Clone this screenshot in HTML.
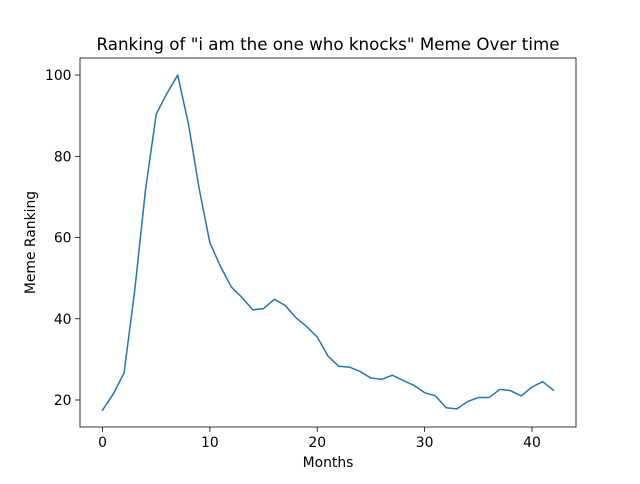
<!DOCTYPE html>
<html><head><meta charset="utf-8"><style>
body{margin:0;background:#fff;font-family:"DejaVu Sans","Liberation Sans",sans-serif;}
</style></head><body>
<svg id="chart" width="640" height="480" xmlns="http://www.w3.org/2000/svg"></svg>
<script>
const months = [0,1,2,3,4,5,6,7,8,9,10,11,12,13,14,15,16,17,18,19,20,21,22,23,24,25,26,27,28,29,30,31,32,33,34,35,36,37,38,39,40,41,42];
const ranking = [17.5,21.5,26.6,47,71.7,90.4,95.5,100,88,72,58.7,52.8,47.8,45.2,42.2,42.5,44.8,43.3,40.3,38.1,35.5,30.8,28.3,28.1,27,25.4,25.1,26.1,24.8,23.6,21.8,21,18.1,17.8,19.6,20.6,20.6,22.6,22.3,21,23.2,24.5,22.4];
const xTicks = [0,10,20,30,40];
const yTicks = [20,40,60,80,100];
const L=80,R=576,T=58,B=427, xmin=-2.1,xmax=44.1, ymin=13.35,ymax=104.2;
const sx=v=>L+(v-xmin)/(xmax-xmin)*(R-L);
const sy=v=>B-(v-ymin)/(ymax-ymin)*(B-T);
const svg=document.getElementById('chart');
const NS='http://www.w3.org/2000/svg';
function mk(t,a,txt){const e=document.createElementNS(NS,t);for(const k in a)e.setAttribute(k,a[k]);if(txt!==undefined)e.textContent=txt;svg.appendChild(e);return e;}
let d=months.map((m,i)=>(i?'L':'M')+sx(m).toFixed(2)+' '+sy(ranking[i]).toFixed(2)).join(' ');
const line=mk('path',{d:d,fill:'none',stroke:'#1f77b4','stroke-width':1.5,'stroke-linejoin':'round','stroke-linecap':'square'});


const frame=mk('rect',{x:L,y:T,width:R-L,height:B-T,fill:'none',stroke:'#000','stroke-width':0.8});


xTicks.forEach(v=>{const x=sx(v);
 mk('line',{x1:x,x2:x,y1:B,y2:B+4.9,stroke:'#000','stroke-width':0.8});
 const t=mk('text',{x:x,y:B+20,'text-anchor':'middle','font-size':13.9,fill:'#000'},v);
 
 });
yTicks.forEach(v=>{const y=sy(v);
 mk('line',{x1:L-4.9,x2:L,y1:y,y2:y,stroke:'#000','stroke-width':0.8});
 const t=mk('text',{x:L-8.5,y:y+5,'text-anchor':'end','font-size':13.9,fill:'#000'},v);
 
 });
const xt=mk('text',{x:(L+R)/2,y:467,'text-anchor':'middle','font-size':13.9,fill:'#000'},'Months');


const yt=mk('text',{x:0,y:0,transform:'translate(35 '+((T+B)/2)+') rotate(-90)','text-anchor':'middle','font-size':13.9,fill:'#000'},'Meme Ranking');


const ti=mk('text',{x:(L+R)/2,y:50,'text-anchor':'middle','font-size':16.7,fill:'#000'},'Ranking of "i am the one who knocks" Meme Over time');


</script>
</body></html>
